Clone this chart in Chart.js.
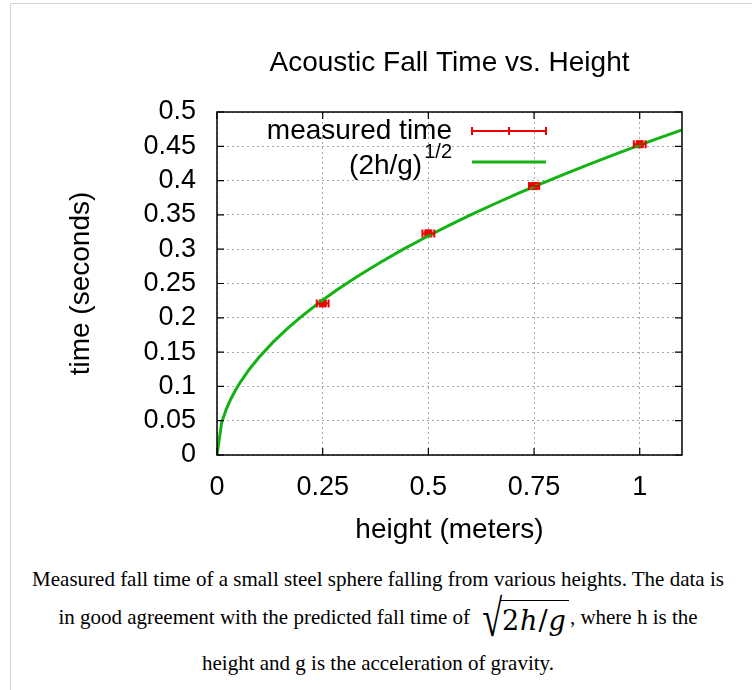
<!DOCTYPE html>
<html>
<head>
<meta charset="utf-8">
<title>Acoustic Fall Time vs. Height</title>
<script src="https://cdn.jsdelivr.net/npm/chart.js@4/dist/chart.umd.min.js"></script>
<style>
    body { margin: 0; background: #fff; width: 752px; height: 690px; overflow: hidden; position: relative; }
    #frame { position: absolute; left: 10px; top: 3px; width: 760px; height: 700px; border: 1px solid #d4d4d4; }
    #wrap { position: absolute; left: 0; top: 0; width: 752px; height: 550px; }
    .cap { position: absolute; left: 8px; width: 740px; text-align: center; white-space: nowrap;
           font-family: "Liberation Serif", "Times New Roman", serif; font-size: 21px; color: #000; }
    .sqrt { display: inline-block; position: relative; vertical-align: middle; margin: 0 1px 0 3px; }
    .rad { display: inline-block; font-size: 52px; line-height: 46px; vertical-align: middle; transform: scaleX(0.7); }
    .under { display: inline-block; border-top: 1.5px solid #000; padding: 2px 2px 0 2px; margin-left: -7px;
             font-family: "DejaVu Serif", "Liberation Serif", serif; font-size: 27px; line-height: 36px;
             letter-spacing: 1px; vertical-align: middle; }
</style>
</head>
<body>
<div id="frame"></div>
<div id="wrap"><canvas id="fallChart" width="752" height="550"></canvas></div>
<div class="cap" style="top:567px">Measured fall time of a small steel sphere falling from various heights. The data is</div>
<div class="cap" style="top:596px">in good agreement with the predicted fall time of <span class="sqrt"><span class="rad">&radic;</span><span class="under">2<i>h</i>/<i>g</i></span></span>, where h is the</div>
<div class="cap" style="top:651px">height and g is the acceleration of gravity.</div>

<script>
// Acoustic fall time chart

// tick positions
const xTicks = [0, 0.25, 0.5, 0.75, 1];
const yTicks = [0, 0.05, 0.1, 0.15, 0.2, 0.25, 0.3, 0.35, 0.4, 0.45, 0.5];

// measured points (height in m, time in s, height error)
const heights = [0.25, 0.5, 0.75, 1.0];
const times = [0.221, 0.323, 0.392, 0.453];
const heightErr = [0.014, 0.014, 0.012, 0.014];

// predicted curve (2h/g)^1/2 as drawn
const curveH = [0, 0.011, 0.022, 0.033, 0.044, 0.055, 0.077, 0.099, 0.132, 0.165, 0.198, 0.242, 0.286,
    0.33, 0.385, 0.44, 0.495, 0.55, 0.605, 0.66, 0.715, 0.77, 0.825, 0.88, 0.935, 0.99, 1.045, 1.1];
const curveT = [0, 0.0474, 0.0670, 0.0821, 0.0948, 0.1060, 0.1254, 0.1421, 0.1641, 0.1835, 0.2010, 0.2222, 0.2416,
    0.2595, 0.2803, 0.2997, 0.3178, 0.3350, 0.3514, 0.3670, 0.3820, 0.3964, 0.4103, 0.4238, 0.4368, 0.4495, 0.4618, 0.4738];

const RED = '#ee0000';
const GREEN = '#14b214';
const FONT = '"Liberation Sans", Arial, Helvetica, sans-serif';

// Draws the gnuplot style box, inner ticks, title, legend and error bars
const gnuplotPlugin = {
    id: 'gnuplotLook',
    afterDatasetsDraw(chart) {
        const ctx = chart.ctx;
        const xs = chart.scales.x;
        const ys = chart.scales.y;
        ctx.save();
        ctx.strokeStyle = RED;
        ctx.lineWidth = 2;
        for (let i = 0; i < heights.length; i++) {
            const x1 = xs.getPixelForValue(heights[i] - heightErr[i]);
            const x2 = xs.getPixelForValue(heights[i] + heightErr[i]);
            const y = ys.getPixelForValue(times[i]);
            ctx.beginPath();
            ctx.moveTo(x1, y); ctx.lineTo(x2, y);
            ctx.moveTo(x1, y - 4); ctx.lineTo(x1, y + 4);
            ctx.moveTo(x2, y - 4); ctx.lineTo(x2, y + 4);
            ctx.stroke();
        }
        ctx.restore();
    },
    afterDraw(chart) {
        const ctx = chart.ctx;
        const a = chart.chartArea;
        const xs = chart.scales.x;
        const ys = chart.scales.y;
        ctx.save();

        // frame
        ctx.strokeStyle = '#000';
        ctx.lineWidth = 1.5;
        ctx.strokeRect(a.left, a.top, a.right - a.left, a.bottom - a.top);

        // inner ticks, mirrored
        ctx.lineWidth = 1.2;
        ctx.beginPath();
        xTicks.forEach(function(v) {
            const x = xs.getPixelForValue(v);
            ctx.moveTo(x, a.bottom); ctx.lineTo(x, a.bottom - 7);
            ctx.moveTo(x, a.top); ctx.lineTo(x, a.top + 7);
        });
        yTicks.forEach(function(v) {
            const y = ys.getPixelForValue(v);
            ctx.moveTo(a.left, y); ctx.lineTo(a.left + 7, y);
            ctx.moveTo(a.right, y); ctx.lineTo(a.right - 7, y);
        });
        ctx.stroke();

        // title
        ctx.fillStyle = '#000';
        ctx.font = '28px ' + FONT;
        ctx.textAlign = 'center';
        ctx.textBaseline = 'middle';
        ctx.fillText('Acoustic Fall Time vs. Height', (a.left + a.right) / 2, 63);

        // legend
        ctx.textAlign = 'right';
        ctx.font = '28px ' + FONT;
        ctx.fillText('measured time', 452, 131);
        ctx.font = '20px ' + FONT;
        ctx.fillText('1/2', 452, 152);
        const supW = ctx.measureText('1/2').width;
        ctx.font = '28px ' + FONT;
        ctx.fillText('(2h/g)', 452 - supW - 2, 166);

        ctx.strokeStyle = RED;
        ctx.lineWidth = 2;
        ctx.beginPath();
        ctx.moveTo(472, 131); ctx.lineTo(546, 131);
        [472, 509, 546].forEach(function(x) {
            ctx.moveTo(x, 127); ctx.lineTo(x, 135);
        });
        ctx.stroke();

        ctx.strokeStyle = GREEN;
        ctx.lineWidth = 3;
        ctx.beginPath();
        ctx.moveTo(472, 162); ctx.lineTo(546, 162);
        ctx.stroke();
        ctx.restore();
    }
};

function buildChart() {
    const ctx = document.getElementById('fallChart').getContext('2d');

    new Chart(ctx, {
        type: 'scatter',
        data: {
            datasets: [{
                label: '(2h/g)^1/2',
                data: curveH.map(function(h, i) { return { x: h, y: curveT[i] }; }),
                showLine: true,
                borderColor: GREEN,
                borderWidth: 3,
                pointRadius: 0,
                tension: 0,
                order: 1
            }, {
                label: 'measured time',
                data: heights.map(function(h, i) { return { x: h, y: times[i] }; }),
                pointStyle: 'rect',
                pointRadius: 5,
                backgroundColor: RED,
                borderColor: RED,
                borderWidth: 1,
                order: 2
            }]
        },
        options: {
            responsive: false,
            animation: false,
            devicePixelRatio: 1,
            layout: { padding: { top: 112, right: 70, left: 0, bottom: 0 } },
            plugins: {
                legend: { display: false },
                title: { display: false },
                tooltip: { enabled: false }
            },
            scales: {
                x: {
                    type: 'linear',
                    min: 0,
                    max: 1.1,
                    afterBuildTicks: function(scale) {
                        scale.ticks = xTicks.map(function(v) { return { value: v }; });
                    },
                    afterFit: function(scale) { scale.height = 95; },
                    ticks: {
                        color: '#000',
                        padding: 16,
                        autoSkip: false,
                        maxRotation: 0,
                        font: { size: 27, family: FONT },
                        callback: function(v) { return String(v); }
                    },
                    grid: { color: '#a8a8a8', lineWidth: 1, drawTicks: false },
                    border: { display: false, dash: [2, 3] },
                    title: {
                        display: true,
                        text: 'height (meters)',
                        color: '#000',
                        font: { size: 28, family: FONT },
                        padding: { top: 0, bottom: 3 }
                    }
                },
                y: {
                    type: 'linear',
                    min: 0,
                    max: 0.5,
                    afterBuildTicks: function(scale) {
                        scale.ticks = yTicks.map(function(v) { return { value: v }; });
                    },
                    afterFit: function(scale) { scale.width = 217; },
                    ticks: {
                        color: '#000',
                        padding: 21,
                        autoSkip: false,
                        font: { size: 27, family: FONT },
                        callback: function(v) { return String(+v.toFixed(2)); }
                    },
                    grid: { color: '#a8a8a8', lineWidth: 1, drawTicks: false },
                    border: { display: false, dash: [2, 3] },
                    title: {
                        display: true,
                        text: 'time (seconds)',
                        color: '#000',
                        font: { size: 28, family: FONT },
                        padding: { top: 64, bottom: 0 }
                    }
                }
            }
        },
        plugins: [gnuplotPlugin]
    });
}

document.addEventListener('DOMContentLoaded', buildChart);
</script>
</body>
</html>
